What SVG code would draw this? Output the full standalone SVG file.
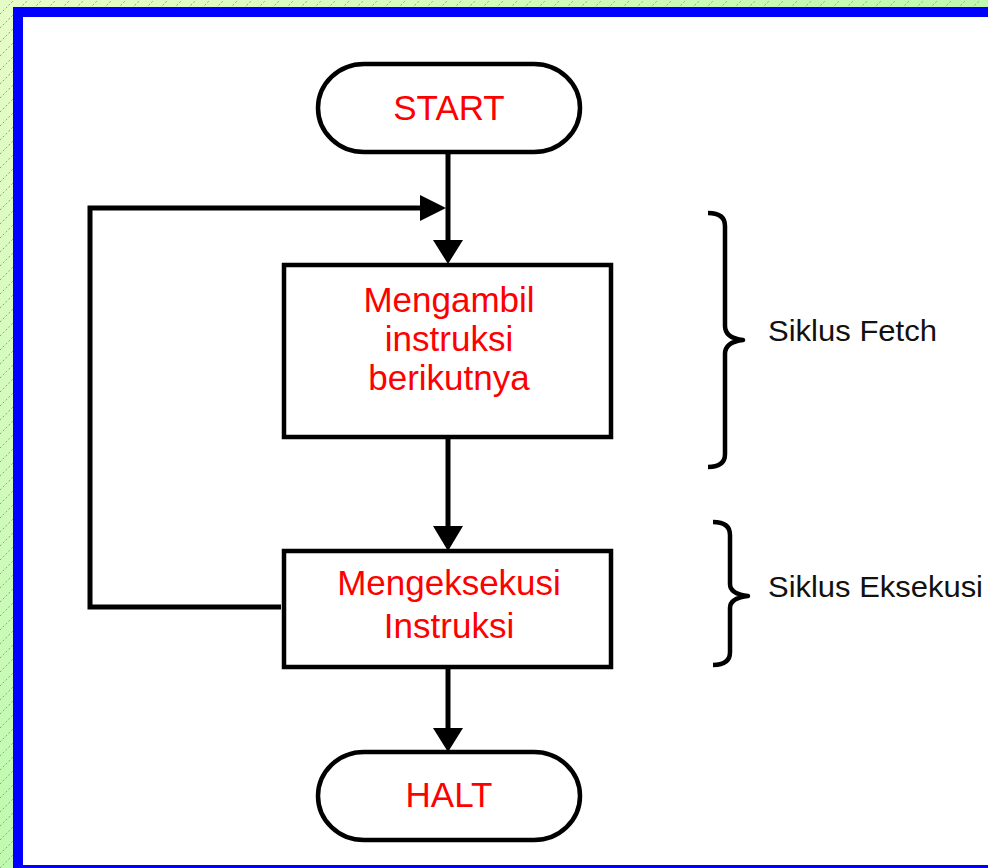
<svg xmlns="http://www.w3.org/2000/svg" width="988" height="868" viewBox="0 0 988 868">
<defs>
<linearGradient id="bg" x1="0" y1="0" x2="1" y2="1">
<stop offset="0" stop-color="#e6fcc8"/>
<stop offset="1" stop-color="#98f898"/>
</linearGradient>
<pattern id="hatch" width="14" height="14" patternUnits="userSpaceOnUse">
<path d="M0,14 L14,0" stroke="#8aa888" stroke-width="1" stroke-dasharray="2,2"/>
</pattern>
<style>
.ln{fill:none;stroke:#000;stroke-width:5}
.box{fill:#fff;stroke:#000;stroke-width:4.5}
.red{fill:#ff0000;font-family:"Liberation Sans",Arial,sans-serif;font-size:35px;text-anchor:middle}
.lbl{fill:#111;font-family:"Liberation Sans",Arial,sans-serif;font-size:29px}
.br{fill:none;stroke:#000;stroke-width:4.5;stroke-linejoin:round}
.tri{fill:#000}
</style>
</defs>
<rect x="0" y="0" width="988" height="868" fill="url(#bg)"/>
<rect x="0" y="0" width="988" height="868" fill="url(#hatch)"/>
<rect x="18" y="12" width="1000" height="858" fill="#fff" stroke="#0000ff" stroke-width="10"/>

<g id="connectors">
<line class="ln" x1="448" y1="152" x2="448" y2="244"/>
<polygon class="tri" points="433,240 463,240 448,264"/>
<polyline class="ln" points="281,607 90,607 90,208 424,208"/>
<polygon class="tri" points="420,195 420,221 446,208"/>
<line class="ln" x1="448" y1="438" x2="448" y2="530"/>
<polygon class="tri" points="433,526 463,526 448,551"/>
<line class="ln" x1="448" y1="667" x2="448" y2="732"/>
<polygon class="tri" points="433,728 463,728 448,752"/>
</g>

<g id="start">
<rect class="box" x="318" y="64" width="262" height="88" rx="46" ry="44"/>
<text class="red" x="449" y="120">START</text>
</g>

<g id="fetch">
<rect class="box" x="284" y="265" width="327" height="172"/>
<text class="red" x="449" y="312">Mengambil</text>
<text class="red" x="449" y="351">instruksi</text>
<text class="red" x="449" y="390">berikutnya</text>
</g>

<g id="execute">
<rect class="box" x="284" y="551" width="327" height="116"/>
<text class="red" x="449" y="595">Mengeksekusi</text>
<text class="red" x="449" y="638">Instruksi</text>
</g>

<g id="halt">
<rect class="box" x="318" y="752" width="262" height="88" rx="46" ry="44"/>
<text class="red" x="449" y="807">HALT</text>
</g>

<g id="brace-fetch">
<path class="br" d="M708,213 Q725,213 725,226 L725,326 Q725,338 743,340 Q725,342 725,354 L725,454 Q725,467 708,467"/>
<text class="lbl" x="768" y="341" textLength="169" lengthAdjust="spacingAndGlyphs">Siklus Fetch</text>
</g>

<g id="brace-exec">
<path class="br" d="M713,522 Q730,522 730,535 L730,584 Q730,594 748,596 Q730,598 730,608 L730,652 Q730,665 713,665"/>
<text class="lbl" x="768" y="597" textLength="215" lengthAdjust="spacingAndGlyphs">Siklus Eksekusi</text>
</g>
</svg>
